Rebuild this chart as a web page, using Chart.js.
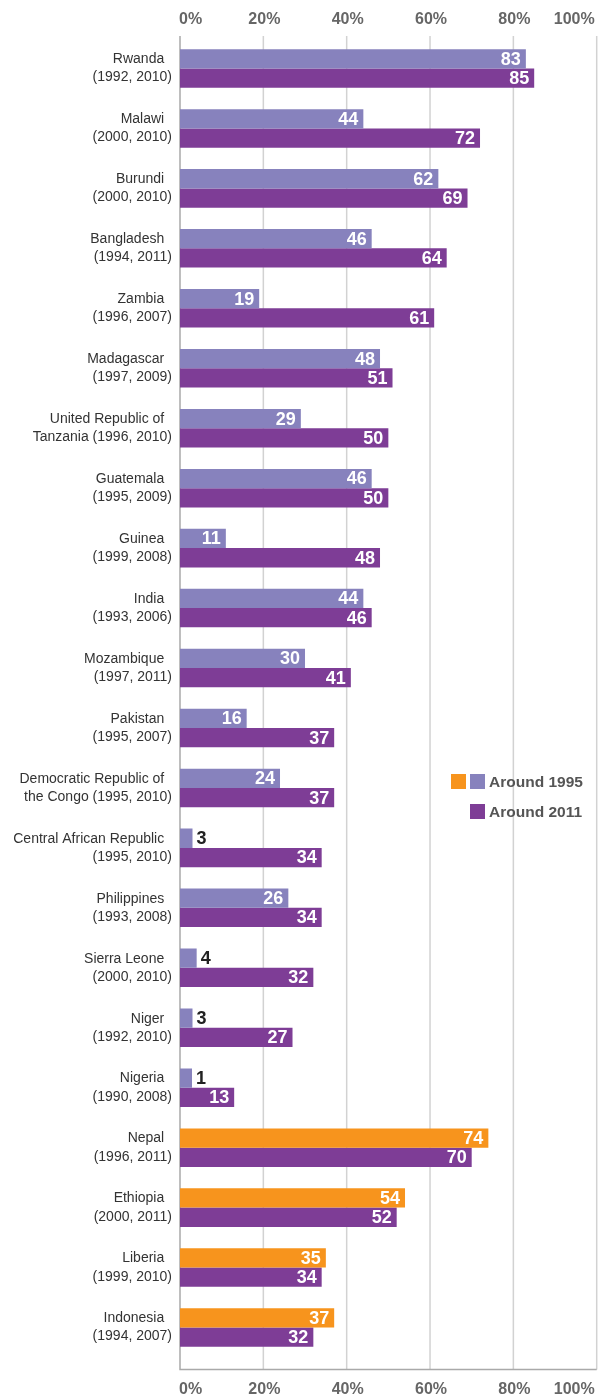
<!DOCTYPE html>
<html>
<head>
<meta charset="utf-8">
<script src="https://cdn.jsdelivr.net/npm/chart.js@4.4.1/dist/chart.umd.min.js"></script>
<style>
  html, body { margin: 0; padding: 0; background: #fff; }
  #chart { display: block; }
</style>
</head>
<body>
<canvas id="chart" width="599" height="1397"></canvas>
<script>
// two-line category labels (country, survey years)
const labelLines = [
  ['Rwanda', '(1992, 2010)'],
  ['Malawi', '(2000, 2010)'],
  ['Burundi', '(2000, 2010)'],
  ['Bangladesh', '(1994, 2011)'],
  ['Zambia', '(1996, 2007)'],
  ['Madagascar', '(1997, 2009)'],
  ['United Republic of', 'Tanzania (1996, 2010)'],
  ['Guatemala', '(1995, 2009)'],
  ['Guinea', '(1999, 2008)'],
  ['India', '(1993, 2006)'],
  ['Mozambique', '(1997, 2011)'],
  ['Pakistan', '(1995, 2007)'],
  ['Democratic Republic of', 'the Congo (1995, 2010)'],
  ['Central African Republic', '(1995, 2010)'],
  ['Philippines', '(1993, 2008)'],
  ['Sierra Leone', '(2000, 2010)'],
  ['Niger', '(1992, 2010)'],
  ['Nigeria', '(1990, 2008)'],
  ['Nepal', '(1996, 2011)'],
  ['Ethiopia', '(2000, 2011)'],
  ['Liberia', '(1999, 2010)'],
  ['Indonesia', '(1994, 2007)']
];
const around1995 = [83, 44, 62, 46, 19, 48, 29, 46, 11, 44, 30, 16, 24, 3, 26, 4, 3, 1, 74, 54, 35, 37];
const around2011 = [85, 72, 69, 64, 61, 51, 50, 50, 48, 46, 41, 37, 37, 34, 34, 32, 27, 13, 70, 52, 34, 32];
const orangeGroup = ['Nepal', 'Ethiopia', 'Liberia', 'Indonesia'];
const xTicks = [0, 20, 40, 60, 80, 100];
const seriesNames = ['Around 1995', 'Around 2011'];

const FONT = "'Helvetica Neue', Helvetica, 'Liberation Sans', Arial, sans-serif";
const LAVENDER = '#8782bd';
const PURPLE = '#7e3d96';
const ORANGE = '#f7941d';

// first line gets trailing spaces so it sits a bit left of the second, like the original
const labels = labelLines.map(l => [l[0] + '  ', l[1]]);

const decor = {
  id: 'decor',
  beforeDatasetsDraw(chart) {
    const { ctx, chartArea: a, scales: { x } } = chart;
    const top = a.top - 2.5, bottom = a.bottom + 12;
    ctx.save();
    ctx.lineWidth = 1.5;
    ctx.strokeStyle = '#d2d2d2';
    xTicks.forEach(v => {
      if (v === 0) return;
      const px = x.getPixelForValue(v);
      ctx.beginPath(); ctx.moveTo(px, top); ctx.lineTo(px, bottom); ctx.stroke();
    });
    ctx.strokeStyle = '#a9a9a9';
    const x0 = x.getPixelForValue(0);
    ctx.beginPath();
    ctx.moveTo(x0, top); ctx.lineTo(x0, bottom);
    ctx.lineTo(x.getPixelForValue(100), bottom);
    ctx.stroke();

    ctx.font = 'bold 16px ' + FONT;
    ctx.fillStyle = '#666';
    ctx.textBaseline = 'middle';
    xTicks.forEach((v, i) => {
      const px = x.getPixelForValue(v);
      let dx = 0;
      if (i === 0) { ctx.textAlign = 'left'; dx = -1; }
      else if (i === xTicks.length - 1) { ctx.textAlign = 'right'; dx = -2; }
      else { ctx.textAlign = 'center'; dx = 1; }
      ctx.fillText(v + '%', px + dx, top - 16);
      ctx.fillText(v + '%', px + dx, bottom + 20);
    });
    ctx.restore();
  },
  afterDatasetsDraw(chart) {
    const { ctx } = chart;
    ctx.save();
    ctx.font = 'bold 18px ' + FONT;
    ctx.textBaseline = 'middle';
    chart.data.datasets.forEach((ds, di) => {
      chart.getDatasetMeta(di).data.forEach((bar, i) => {
        const text = String(ds.data[i]);
        const w = ctx.measureText(text).width;
        if (bar.x - bar.base > w + 10) {
          ctx.fillStyle = '#fff';
          ctx.textAlign = 'right';
          ctx.fillText(text, bar.x - 5, bar.y + 1);
        } else {
          ctx.fillStyle = '#222';
          ctx.textAlign = 'left';
          ctx.fillText(text, bar.x + 4, bar.y + 1);
        }
      });
    });

    // legend
    ctx.fillStyle = ORANGE; ctx.fillRect(451, 774, 15, 15);
    ctx.fillStyle = LAVENDER; ctx.fillRect(470, 774, 15, 15);
    ctx.fillStyle = PURPLE; ctx.fillRect(470, 804, 15, 15);
    ctx.font = 'bold 15.5px ' + FONT;
    ctx.fillStyle = '#555';
    ctx.textAlign = 'left';
    ctx.fillText(seriesNames[0], 489, 783);
    ctx.fillText(seriesNames[1], 489, 813);
    ctx.restore();
  }
};

new Chart(document.getElementById('chart'), {
  type: 'bar',
  data: {
    labels: labels,
    datasets: [
      {
        label: seriesNames[0],
        data: around1995,
        backgroundColor: c => orangeGroup.includes(labelLines[c.dataIndex][0]) ? ORANGE : LAVENDER,
        minBarLength: 12,
        categoryPercentage: 0.643,
        barPercentage: 1.0,
        borderWidth: 0
      },
      {
        label: seriesNames[1],
        data: around2011,
        backgroundColor: PURPLE,
        categoryPercentage: 0.643,
        barPercentage: 1.0,
        borderWidth: 0
      }
    ]
  },
  options: {
    indexAxis: 'y',
    responsive: false,
    devicePixelRatio: 1,
    animation: false,
    layout: { padding: { top: 38.5, bottom: 39.5, left: 0, right: 2.3 } },
    plugins: { legend: { display: false }, tooltip: { enabled: false } },
    scales: {
      x: { type: 'linear', min: 0, max: 100, display: false },
      y: {
        type: 'category',
        grid: { display: false, drawTicks: false, tickLength: 0 },
        border: { display: false },
        ticks: {
          font: { family: FONT, size: 14, lineHeight: 1.3 },
          color: '#333',
          padding: 8,
          autoSkip: false
        },
        afterFit(s) { s.width = 180; }
      }
    }
  },
  plugins: [decor]
});
</script>
</body>
</html>
